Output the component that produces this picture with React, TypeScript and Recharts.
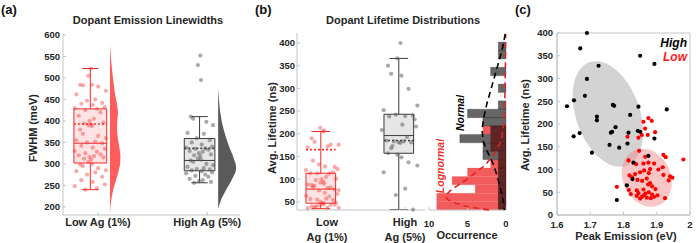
import React from 'react';
import { ComposedChart, XAxis, YAxis, Scatter, ReferenceArea, ReferenceLine } from 'recharts';

const FONT = '"Liberation Sans", Arial, Helvetica, sans-serif';
const AXIS_GREY = '#c4c4c4';
const INK = '#262626';
const RED = '#f52a2a';
const tickFont = { fontFamily: FONT, fontSize: 9.5, fontWeight: 700, fill: INK };

// ---- (a) emission linewidths, meV ----
const lowFwhm = [
  522, 505, 484, 484, 483, 480, 470, 462, 450, 447, 442, 440, 437, 432, 430, 428, 425, 420, 412, 405, 400,
  396, 394, 392, 390, 388, 380, 370, 365, 360, 355, 352, 350, 348, 342, 338, 335, 330, 328, 325, 322, 320,
  318, 316, 315, 312, 310, 305, 300, 298, 295, 290, 285, 283, 280, 275, 270, 262, 258, 252, 248, 243, 240,
];
const highFwhm = [
  552, 530, 495, 410, 405, 398, 390, 372, 370, 360, 355, 350, 345, 340, 338, 336, 335, 333, 330, 328, 325,
  322, 320, 318, 312, 310, 308, 305, 300, 297, 293, 290, 288, 287, 285, 283, 280, 278, 275, 272, 270, 265,
  262, 260, 258, 256,
];
const fwhmBoxes = [
  { pos: 1, lo: 240, q1: 302, med: 348, q3: 428, hi: 522, mean: 393 },
  { pos: 2, lo: 256, q1: 284, med: 308, q3: 359, hi: 410, mean: 336 },
];
// half-violin outlines: [meV, relative width]
const lowFwhmViolin = [
  [580, 0], [560, 0.5], [540, 1.2], [520, 2], [500, 3], [480, 4], [460, 5.3], [440, 7], [420, 8], [400, 7.3],
  [380, 7], [360, 7.8], [340, 9.3], [320, 10.5], [300, 10.2], [280, 8.3], [260, 5.8], [240, 3.2], [220, 1.5],
  [200, 0.5], [185, 0],
];
const highFwhmViolin = [
  [475, 0], [450, 0.8], [425, 1.8], [400, 3.5], [380, 5.5], [360, 8], [340, 11], [320, 14.5], [300, 17.5],
  [290, 18], [280, 17.2], [260, 13], [240, 8], [220, 3.5], [205, 1.2], [195, 0],
];

// ---- (b)/(c) per-dopant samples: [peak emission eV, avg lifetime ns] ----
const lowSamples: [number, number][] = [
  [1.86, 205], [1.875, 213], [1.885, 207], [1.865, 190], [1.895, 182], [1.855, 176], [1.873, 176], [1.845, 170],
  [1.812, 172], [1.92, 132], [1.927, 127], [1.847, 141], [1.865, 128], [1.98, 122], [1.815, 120], [1.838, 112],
  [1.86, 113], [1.875, 115], [1.892, 113], [1.918, 105], [1.905, 100], [1.88, 101], [1.862, 98], [1.85, 94],
  [1.876, 92], [1.835, 90], [1.818, 87], [1.94, 85], [1.947, 82], [1.936, 76], [1.92, 88], [1.87, 80],
  [1.856, 75], [1.842, 77], [1.826, 83], [1.88, 70], [1.874, 67], [1.886, 63], [1.78, 62], [1.816, 55],
  [1.84, 54], [1.86, 56], [1.896, 57], [1.822, 46], [1.845, 48], [1.855, 40], [1.866, 47], [1.876, 50],
  [1.886, 45], [1.892, 40], [1.87, 38], [1.902, 43], [1.925, 37], [1.85, 36], [1.882, 37], [1.84, 42], [1.862, 44],
];
const highSamples: [number, number][] = [
  [1.69, 400], [1.67, 366], [1.725, 328], [1.85, 350], [1.893, 332], [1.69, 299], [1.684, 262], [1.651, 252],
  [1.63, 239], [1.768, 242], [1.772, 240], [1.845, 238], [1.82, 220], [1.72, 216], [1.72, 208], [1.776, 193],
  [1.766, 183], [1.762, 181], [1.843, 185], [1.85, 183], [1.815, 181], [1.93, 232], [1.65, 173], [1.668, 180],
  [1.758, 154], [1.787, 148], [1.812, 157], [1.893, 168], [1.705, 137], [1.875, 130], [1.83, 115], [1.827, 79],
  [1.81, 65], [1.78, 33],
];
const lifetimeBoxes = [
  { pos: 1, lo: 35, q1: 47, med: 78, q3: 113, hi: 205, mean: 165 },
  { pos: 2, lo: 33, q1: 157, med: 196, q3: 243, hi: 366, mean: 185 },
];
const binEdges = [32, 50.5, 69, 87.5, 106, 124.5, 143, 161.5, 180, 198.5, 217, 235.5, 254, 272.5, 291, 309.5, 328, 346.5, 365, 383.5, 402];
const lowCounts = [9, 9, 4, 7, 5, 2, 1, 2, 2, 3, 0, 0, 0, 0, 0, 0, 0, 0, 0, 0];
const highCounts = [1, 1, 1, 1, 1, 1, 3, 3, 6, 2, 3, 5, 1, 0, 1, 0, 2, 0, 1, 1];
// fitted curves: [occurrence, ns]
const normalFit = [
  [0.1, 420], [0.5, 385], [1.0, 355], [1.5, 325], [2.0, 295], [2.5, 265], [2.9, 235], [3.1, 210], [3.0, 185],
  [2.4, 160], [1.7, 135], [1.2, 110], [0.8, 85], [0.45, 60], [0.25, 40], [0.2, 32],
];
const lognormalFit = [
  [2.2, 32], [4.9, 39], [6.5, 47], [7.5, 54], [7.9, 63], [7.2, 75], [6.2, 87], [5.2, 98], [4.3, 110], [2.7, 131],
  [1.4, 158], [0.6, 186], [0.3, 220], [0.15, 280], [0.08, 350], [0.05, 420],
];

// fixed horizontal scatter offsets for the dot strips
const jitter = [0.05, -0.12, 0.1, -0.62, -0.45, 0.48, 0.95, -0.85, 0.3, -0.2, 0.72, -0.55, 0.15, 0.88, -0.95, 0.4, -0.3, 0.62, -0.7, 0.22, -0.05, 0.8, -0.38];

type Pt = { x: number; y: number };
type Box = { pos: number; lo: number; q1: number; med: number; q3: number; hi: number; mean: number };

const jittered = (vals: number[], center: number, spread: number): Pt[] =>
  vals.map((y, i) => ({ x: center + jitter[i % jitter.length] * spread, y }));

const dot = (r: number, fill: string, opacity = 1) => (p: any) =>
  <circle cx={p.cx} cy={p.cy} r={r} fill={fill} fillOpacity={opacity} />;

// filled polygon in data space, placed through a ReferenceArea spanning its bounding box
function polygonArea(key: string, pts: Pt[], fill: string, opacity = 1) {
  const xs = pts.map((p) => p.x);
  const ys = pts.map((p) => p.y);
  const x1 = Math.min(...xs), x2 = Math.max(...xs), y1 = Math.min(...ys), y2 = Math.max(...ys);
  const Shape = (props: any) => {
    const { x, y, width, height } = props;
    const d = pts
      .map((p, i) => `${i ? 'L' : 'M'}${(x + ((p.x - x1) / (x2 - x1)) * width).toFixed(2)},${(y + ((y2 - p.y) / (y2 - y1)) * height).toFixed(2)}`)
      .join(' ') + ' Z';
    return <path d={d} fill={fill} fillOpacity={opacity} stroke="none" />;
  };
  return <ReferenceArea key={key} x1={x1} x2={x2} y1={y1} y2={y2} ifOverflow="visible" shape={Shape} />;
}

function violin(profile: number[][], base: number, maxW: number): Pt[] {
  const peak = Math.max(...profile.map((p) => p[1]));
  const side = profile.map(([y, w]) => ({ x: base + (w / peak) * maxW, y }));
  return [{ x: base, y: profile[0][0] }, ...side, { x: base, y: profile[profile.length - 1][0] }];
}

function ellipse(c: Pt, a: Pt, b: Pt, n = 64): Pt[] {
  const out: Pt[] = [];
  for (let i = 0; i < n; i++) {
    const t = (2 * Math.PI * i) / n;
    out.push({ x: c.x + a.x * Math.cos(t) + b.x * Math.sin(t), y: c.y + a.y * Math.cos(t) + b.y * Math.sin(t) });
  }
  return out;
}

function boxPlot(id: string, b: Box, shift: number, half: number, cap: number, stroke: string, fill: string) {
  const c = b.pos + shift;
  const line = (k: string, x1: number, y1: number, x2: number, y2: number, dash?: string, w = 1) => (
    <ReferenceLine key={id + k} segment={[{ x: x1, y: y1 }, { x: x2, y: y2 }]} stroke={stroke}
      strokeWidth={w} strokeDasharray={dash} ifOverflow="visible" />
  );
  return [
    <ReferenceArea key={id + 'box'} x1={c - half} x2={c + half} y1={b.q1} y2={b.q3} fill={fill} fillOpacity={1}
      stroke={stroke} strokeWidth={1} ifOverflow="visible" />,
    line('wu', c, b.q3, c, b.hi),
    line('wl', c, b.lo, c, b.q1),
    line('cu', c - cap, b.hi, c + cap, b.hi),
    line('cl', c - cap, b.lo, c + cap, b.lo),
    line('med', c - half, b.med, c + half, b.med),
    line('mean', c - half, b.mean, c + half, b.mean, '2 2', 1.6),
  ];
}

const CategoryTick = (props: any) => {
  const { x, y, payload, labels, first = 8 } = props;
  const lines: string[] = labels[payload.value] || [];
  return (
    <text x={x} y={y} textAnchor="middle" fontFamily={FONT} fontSize={11} fontWeight={700} fill={INK}>
      {lines.map((s, i) => (
        <tspan key={i} x={x} dy={i === 0 ? first : 15}>{s}</tspan>
      ))}
    </text>
  );
};

const axisProps = { stroke: AXIS_GREY, tickSize: -3, interval: 0 as const };

function PanelA() {
  return (
    <ComposedChart width={245} height={243} margin={{ top: 35, right: 5, bottom: 0, left: 0 }}>
      <XAxis type="number" dataKey="x" domain={[0.68, 2.3]} ticks={[1, 2]} height={28} tickMargin={6} {...axisProps}
        tick={(p: any) => <CategoryTick {...p} labels={{ 1: ['Low Ag (1%)'], 2: ['High Ag (5%)'] }} />} />
      <YAxis type="number" dataKey="y" domain={[181, 600]} ticks={[200, 250, 300, 350, 400, 450, 500, 550, 600]}
        width={63} tickMargin={6} tick={tickFont} {...axisProps} />
      {polygonArea('vl', violin(lowFwhmViolin, 1.11, 0.096), '#ff5c5c')}
      {polygonArea('vh', violin(highFwhmViolin, 2.1, 0.165), '#5a5a5a')}
      {boxPlot('bl', fwhmBoxes[0], -0.07, 0.15, 0.075, RED, '#fde3e3')}
      {boxPlot('bh', fwhmBoxes[1], -0.07, 0.14, 0.075, '#3a3a3a', '#e6e6e6')}
      <Scatter data={jittered(lowFwhm, 0.93, 0.15)} fill={RED} shape={dot(2.1, RED, 0.4)} isAnimationActive={false} />
      <Scatter data={jittered(highFwhm, 1.93, 0.13)} fill="#555" shape={dot(2.1, '#555', 0.5)} isAnimationActive={false} />
    </ComposedChart>
  );
}

function PanelBox() {
  return (
    <ComposedChart width={176} height={243} margin={{ top: 33, right: 5, bottom: 0, left: 0 }}>
      <XAxis type="number" dataKey="x" domain={[0.615, 2.256]} ticks={[1, 2]} height={33} tickMargin={6} {...axisProps}
        tick={(p: any) => <CategoryTick {...p} first={13} labels={{ 1: ['Low', 'Ag (1%)'], 2: ['High', 'Ag (5%)'] }} />} />
      <YAxis type="number" dataKey="y" domain={[32, 422]} ticks={[50, 100, 150, 200, 250, 300, 350, 400]}
        width={43} tickMargin={5} tick={tickFont} {...axisProps} />
      {boxPlot('bl', lifetimeBoxes[0], -0.08, 0.19, 0.12, RED, '#fde3e3')}
      {boxPlot('bh', lifetimeBoxes[1], -0.08, 0.19, 0.12, '#3a3a3a', '#e6e6e6')}
      <Scatter data={jittered(lowSamples.map((s) => s[1]), 0.94, 0.22)} fill={RED} shape={dot(2.1, RED, 0.4)} isAnimationActive={false} />
      <Scatter data={jittered(highSamples.map((s) => s[1]), 1.93, 0.24)} fill="#555" shape={dot(2.1, '#555', 0.5)} isAnimationActive={false} />
    </ComposedChart>
  );
}

function PanelHist() {
  const bars = (counts: number[], fill: string, opacity: number, id: string) =>
    counts.map((n, i) =>
      n > 0 ? (
        <ReferenceArea key={id + i} x1={0} x2={n} y1={binEdges[i]} y2={binEdges[i + 1]} fill={fill}
          fillOpacity={opacity} stroke={fill} strokeOpacity={0.35} strokeWidth={0.6} ifOverflow="visible" />
      ) : null,
    );
  const curve = (pts: number[][]) => pts.map(([c, t]) => ({ x: c, y: t }));
  return (
    <ComposedChart width={94} height={243} margin={{ top: 33, right: 3, bottom: 0, left: 14 }}>
      <XAxis type="number" dataKey="x" domain={[0, 10]} reversed ticks={[0, 5, 10]} height={33} tickMargin={13}
        tick={tickFont} {...axisProps} />
      <YAxis type="number" dataKey="y" domain={[32, 422]} hide />
      {bars(lowCounts, '#f25c5c', 1, 'l')}
      {bars(highCounts, '#000000', 0.6, 'h')}
      <Scatter data={curve(lognormalFit)} fill="#e8231f" line={{ stroke: '#e8231f', strokeWidth: 1.6, strokeDasharray: '6 4' }}
        lineType="joint" shape={() => <g />} isAnimationActive={false} />
      <Scatter data={curve(normalFit)} fill="#000" line={{ stroke: '#000', strokeWidth: 1.6, strokeDasharray: '6 4' }}
        lineType="joint" shape={() => <g />} isAnimationActive={false} />
    </ComposedChart>
  );
}

function PanelScatter() {
  const toPts = (s: [number, number][]) => s.map(([e, t]) => ({ x: e, y: t }));
  return (
    <ComposedChart width={182} height={243} margin={{ top: 33, right: 7, bottom: 0, left: 0 }}>
      <XAxis type="number" dataKey="x" domain={[1.6, 2]} ticks={[1.6, 1.7, 1.8, 1.9, 2]} height={28} tickMargin={9}
        tick={tickFont} tickFormatter={(v: number) => (v === 2 ? '2' : v.toFixed(1))} {...axisProps} />
      <YAxis type="number" dataKey="y" domain={[0, 400]} ticks={[0, 50, 100, 150, 200, 250, 300, 350, 400]}
        width={42} tickMargin={7} tick={tickFont} {...axisProps} />
      <ReferenceArea x1={1.6} x2={2} y1={0} y2={400} fill="none" stroke={AXIS_GREY} strokeWidth={1} ifOverflow="visible" />
      {polygonArea('eh', ellipse({ x: 1.753, y: 222 }, { x: 0.056, y: -113.6 }, { x: 0.0898, y: 24 }), '#a8a8a8', 0.5)}
      {polygonArea('el', ellipse({ x: 1.87, y: 82 }, { x: 0.038, y: -59.8 }, { x: 0.0649, y: 22.3 }), '#f08080', 0.45)}
      <Scatter data={toPts(lowSamples)} fill="#ff0000" shape={dot(2.1, '#ff0000')} isAnimationActive={false} />
      <Scatter data={toPts(highSamples)} fill="#000" shape={dot(2.1, '#000')} isAnimationActive={false} />
    </ComposedChart>
  );
}

const label = { fontFamily: FONT, fontWeight: 700, fill: INK } as const;

export default function App() {
  return (
    <div style={{ position: 'absolute', left: 0, top: 0, width: 697, height: 243, background: '#fff', overflow: 'hidden' }}>
      <div style={{ position: 'absolute', left: 0, top: 0 }}><PanelA /></div>
      <div style={{ position: 'absolute', left: 254, top: 0 }}><PanelBox /></div>
      <div style={{ position: 'absolute', left: 415, top: 0 }}><PanelHist /></div>
      <div style={{ position: 'absolute', left: 515, top: 0 }}><PanelScatter /></div>
      <svg width={697} height={243} style={{ position: 'absolute', left: 0, top: 0, pointerEvents: 'none' }}>
        <text x={1} y={14} fontSize={13} {...label} fill="#111">(a)</text>
        <text x={255} y={14} fontSize={13} {...label} fill="#111">(b)</text>
        <text x={515} y={14} fontSize={13} {...label} fill="#111">(c)</text>
        <text x={148} y={24} fontSize={11} textAnchor="middle" {...label}>Dopant Emission Linewidths</text>
        <text x={403} y={24} fontSize={11} textAnchor="middle" {...label}>Dopant Lifetime Distributions</text>
        <text transform="translate(33,128) rotate(-90)" x={0} y={4} fontSize={11} textAnchor="middle" {...label}>FWHM (meV)</text>
        <text transform="translate(272,128) rotate(-90)" x={0} y={4} fontSize={11} textAnchor="middle" {...label}>Avg. Lifetime (ns)</text>
        <text transform="translate(525,125) rotate(-90)" x={0} y={4} fontSize={11} textAnchor="middle" {...label}>Avg. Lifetime (ns)</text>
        <text x={467} y={239} fontSize={11} textAnchor="middle" {...label}>Occurrence</text>
        <text x={626} y={240} fontSize={11} textAnchor="middle" {...label}>Peak Emission (eV)</text>
        <text transform="translate(460,113) rotate(-90)" x={0} y={4} fontSize={10.5} fontStyle="italic" textAnchor="middle" {...label} fill="#000">Normal</text>
        <text transform="translate(440,166) rotate(-90)" x={0} y={4} fontSize={10.5} fontStyle="italic" textAnchor="middle" {...label} fill="#f0302a">Lognormal</text>
        <text x={687} y={47} fontSize={12} fontStyle="italic" textAnchor="end" {...label} fill="#000">High</text>
        <text x={687} y={61} fontSize={12} fontStyle="italic" textAnchor="end" {...label} fill="#ff1a1a">Low</text>
      </svg>
    </div>
  );
}
